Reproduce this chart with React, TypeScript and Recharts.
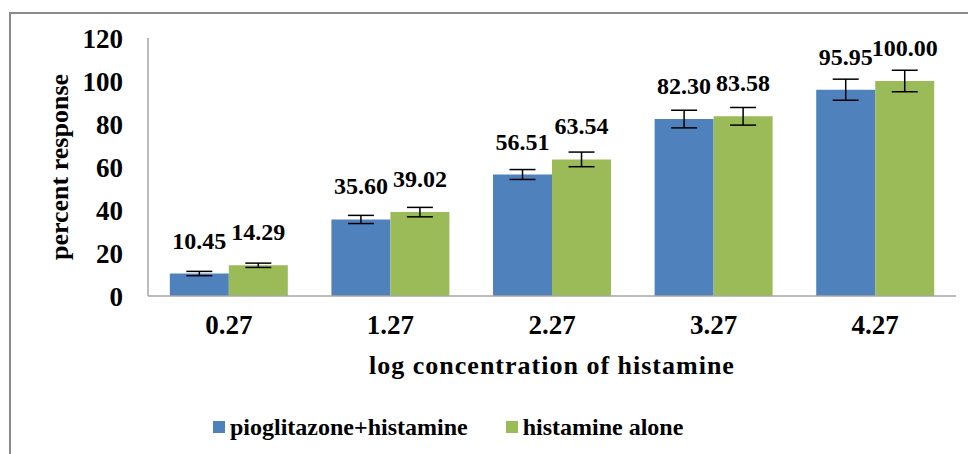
import { Bar, BarChart, ErrorBar, LabelList, Label, Legend, XAxis, YAxis } from "recharts";

// percent response to histamine, with and without pioglitazone
const CONCENTRATIONS = ["0.27", "1.27", "2.27", "3.27", "4.27"];
const PIO_HIST = [10.45, 35.6, 56.51, 82.3, 95.95];
const PIO_HIST_ERR = [1.0, 1.9, 2.3, 4.1, 4.9];
const HIST_ALONE = [14.29, 39.02, 63.54, 83.58, 100.0];
const HIST_ALONE_ERR = [1.0, 2.2, 3.4, 4.1, 5.0];
const Y_TICKS = [0, 20, 40, 60, 80, 100, 120];

const BLUE = "#4F81BD";
const GREEN = "#9BBB59";
const FONT = '"Liberation Serif", "Times New Roman", serif';

const rows = CONCENTRATIONS.map((c, i) => ({
  conc: c,
  pio: PIO_HIST[i],
  pioErr: PIO_HIST_ERR[i],
  hist: HIST_ALONE[i],
  histErr: HIST_ALONE_ERR[i],
}));

const tickStyle = { fill: "#000", fontSize: 27, fontWeight: 700, fontFamily: FONT };

function ValueLabel(props: any) {
  const { x, y, width, value } = props;
  return (
    <text
      x={x + width / 2}
      y={y - 33}
      textAnchor="middle"
      dominantBaseline="central"
      fill="#000"
      fontSize={24}
      fontWeight={700}
      fontFamily={FONT}
    >
      {Number(value).toFixed(2)}
    </text>
  );
}

function LegendBox() {
  const items = [
    { name: "pioglitazone+histamine", color: BLUE },
    { name: "histamine alone", color: GREEN },
  ];
  return (
    <div style={{ display: "flex", alignItems: "center", height: 30, gap: 38 }}>
      {items.map((it) => (
        <div key={it.name} style={{ display: "flex", alignItems: "center" }}>
          <span style={{ width: 12, height: 12, background: it.color, marginRight: 5 }} />
          <span style={{ fontFamily: FONT, fontWeight: 700, fontSize: 24, color: "#000", lineHeight: "30px" }}>
            {it.name}
          </span>
        </div>
      ))}
    </div>
  );
}

export default function App() {
  return (
    <div style={{ position: "absolute", left: 0, top: 0, width: 968, height: 454, background: "#fff", overflow: "hidden" }}>
      <div
        style={{
          position: "absolute",
          left: 9,
          top: 12,
          width: 980,
          height: 460,
          borderLeft: "2px solid #8a8a8a",
          borderTop: "2px solid #8a8a8a",
        }}
      />
      <div style={{ position: "absolute", left: 0, top: 0 }}>
        <BarChart
          width={968}
          height={454}
          data={rows}
          margin={{ top: 38, right: 12, bottom: 38, left: 88 }}
          barGap={0}
          barCategoryGap="13.5%"
        >
          <XAxis
            dataKey="conc"
            axisLine={{ stroke: "#a6a6a6", strokeWidth: 1.5 }}
            tickLine={false}
            tickSize={0}
            tickMargin={19}
            tick={tickStyle}
            height={90}
          >
            <Label
              content={() => (
                <text
                  x={552}
                  y={365}
                  textAnchor="middle"
                  dominantBaseline="central"
                  fill="#000"
                  fontSize={26}
                  fontWeight={700}
                  fontFamily={FONT}
                  letterSpacing={1}
                >
                  log concentration of histamine
                </text>
              )}
            />
          </XAxis>
          <YAxis
            domain={[0, 120]}
            ticks={Y_TICKS}
            interval={0}
            axisLine={{ stroke: "#a6a6a6", strokeWidth: 1.5 }}
            tickLine={false}
            tickSize={0}
            tickMargin={25}
            tick={tickStyle}
            width={60}
          >
            <Label
              content={() => (
                <text
                  x={59}
                  y={167}
                  transform="rotate(-90, 59, 167)"
                  textAnchor="middle"
                  dominantBaseline="central"
                  fill="#000"
                  fontSize={26}
                  fontWeight={700}
                  fontFamily={FONT}
                >
                  percent response
                </text>
              )}
            />
          </YAxis>
          <Legend
            content={() => <LegendBox />}
            wrapperStyle={{ position: "absolute", left: 213, top: 412, bottom: "auto", width: "auto", height: 30 }}
          />
          <Bar dataKey="pio" name="pioglitazone+histamine" fill={BLUE} isAnimationActive={false}>
            <ErrorBar dataKey="pioErr" width={13} stroke="#000" strokeWidth={1.5} />
            <LabelList dataKey="pio" content={ValueLabel} />
          </Bar>
          <Bar dataKey="hist" name="histamine alone" fill={GREEN} isAnimationActive={false}>
            <ErrorBar dataKey="histErr" width={13} stroke="#000" strokeWidth={1.5} />
            <LabelList dataKey="hist" content={ValueLabel} />
          </Bar>
        </BarChart>
      </div>
    </div>
  );
}
